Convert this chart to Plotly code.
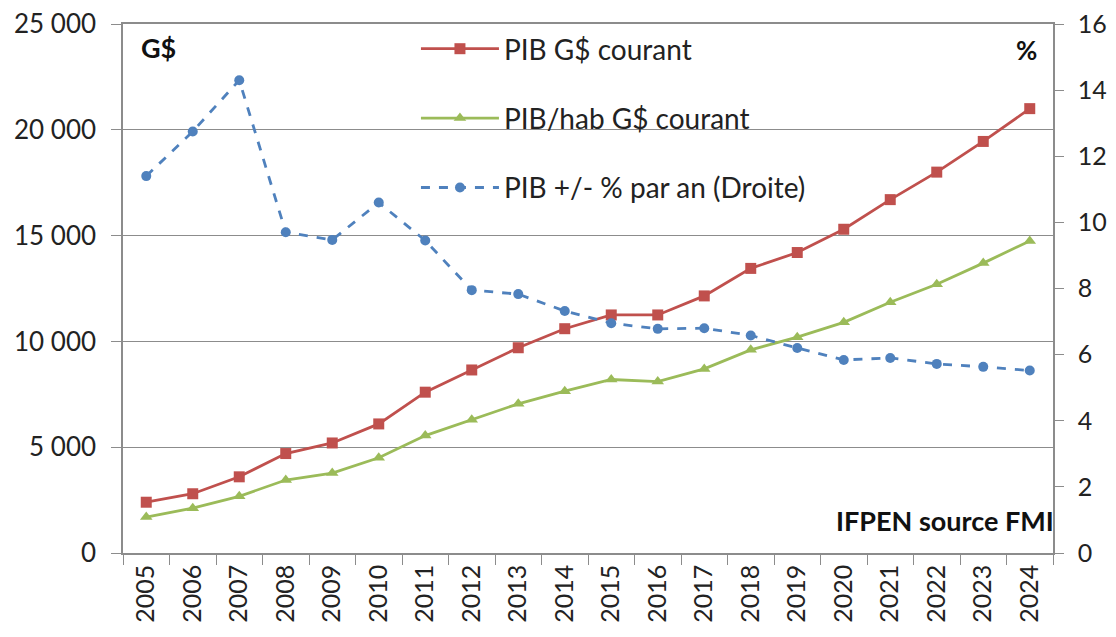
import plotly.graph_objects as go

years = [str(y) for y in range(2005, 2025)]
pib = [2400, 2800, 3600, 4700, 5200, 6100, 7600, 8650, 9700, 10600,
       11250, 11250, 12150, 13450, 14200, 15300, 16700, 18000, 19450, 21000]
pib_hab = [1700, 2120, 2680, 3450, 3780, 4500, 5550, 6300, 7050, 7650,
           8200, 8100, 8700, 9600, 10200, 10900, 11850, 12700, 13700, 14750]
growth = [11.4, 12.75, 14.3, 9.7, 9.47, 10.6, 9.45, 7.95, 7.83, 7.32,
          6.95, 6.78, 6.8, 6.58, 6.2, 5.84, 5.9, 5.72, 5.63, 5.52]

FONT = "Lato"
RED = "#C0504D"
GREEN = "#9BBB59"
BLUE = "#4F81BD"
GRID = "#8C8C8C"
TXT = "#222222"

fig = go.Figure()
fig.add_trace(go.Scatter(x=years, y=pib, name="PIB G$ courant", mode="lines+markers",
                         line=dict(color=RED, width=2.8),
                         marker=dict(symbol="square", size=11, color=RED),
                         legendgroup="a"))
fig.add_trace(go.Scatter(x=years, y=pib_hab, name="PIB/hab G$ courant", mode="lines+markers",
                         line=dict(color=GREEN, width=2.8),
                         marker=dict(symbol="triangle-up", size=11, color=GREEN),
                         legendgroup="b"))
fig.add_trace(go.Scatter(x=years, y=growth, name="PIB +/- % par an (Droite)", mode="lines+markers",
                         line=dict(color=BLUE, width=2.8, dash="dash"),
                         marker=dict(symbol="circle", size=10, color=BLUE),
                         yaxis="y2", legendgroup="c"))

fig.update_layout(
    width=1108, height=629,
    margin=dict(l=115, r=63, t=16, b=84, autoexpand=False),
    paper_bgcolor="white", plot_bgcolor="white",
    separators=", ",
    font=dict(family=FONT, color=TXT, size=20),
    showlegend=True,
    legend=dict(x=0.315, y=1.0, xanchor="left", yanchor="top",
                font=dict(family=FONT, size=28, color=TXT),
                tracegroupgap=30, bgcolor="rgba(255,255,255,0)",
                itemwidth=78),
    xaxis=dict(type="category", range=[-0.5, 19.5], tickson="boundaries",
               ticks="outside", ticklen=10, mirror=True,
               tickcolor=GRID, showline=True, linecolor=GRID, linewidth=1.5,
               tickangle=-90, tickfont=dict(family=FONT, size=25, color=TXT),
               showgrid=False, automargin=False),
    yaxis=dict(range=[0, 25000], dtick=5000, tickformat=",d", ticks="outside", ticklen=10,
               tickcolor=GRID, showline=True, linecolor=GRID, linewidth=1.5,
               showgrid=True, gridcolor=GRID, gridwidth=1.2, zeroline=False,
               automargin=False, ticklabelstandoff=10, ticklabeloverflow="allow",
               tickfont=dict(family=FONT, size=26, color=TXT)),
    yaxis2=dict(range=[0, 16], dtick=2, overlaying="y", side="right", ticks="outside",
                ticklen=9, tickcolor=GRID, showline=True, linecolor=GRID, linewidth=1.5,
                showgrid=False, zeroline=False, automargin=False, ticklabelstandoff=9,
                ticklabeloverflow="allow",
                tickfont=dict(family=FONT, size=25, color=TXT)),
    annotations=[
        dict(text="<b>G$</b>", xref="paper", yref="paper", x=0.017, y=0.955,
             xanchor="left", yanchor="middle", showarrow=False,
             font=dict(family=FONT, size=27, color="#111111")),
        dict(text="<b>%</b>", xref="paper", yref="paper", x=0.985, y=0.95,
             xanchor="right", yanchor="middle", showarrow=False,
             font=dict(family=FONT, size=26, color="#111111")),
        dict(text="<b>IFPEN source FMI</b>", xref="paper", yref="paper", x=1.003, y=0.062,
             xanchor="right", yanchor="middle", showarrow=False,
             font=dict(family=FONT, size=27, color="#111111")),
    ],
)

fig.write_html("out.html")
